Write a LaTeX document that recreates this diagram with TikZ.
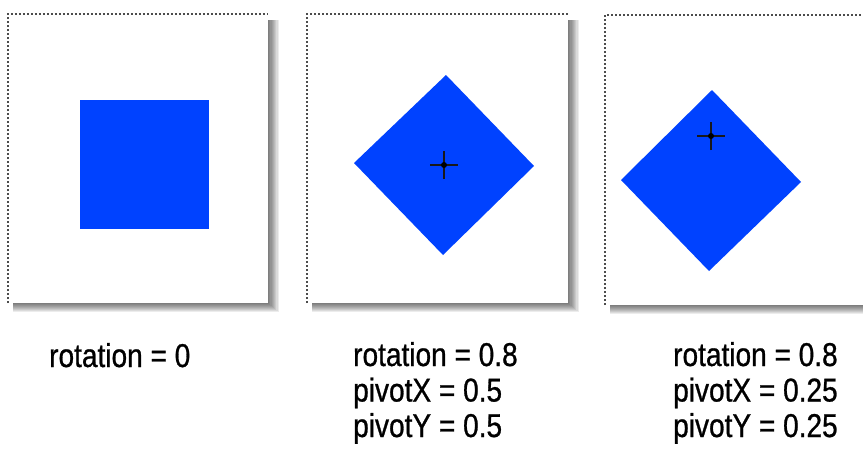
\documentclass[tikz,border=0pt]{standalone}
\usepackage{fontspec}
\setmainfont[FakeStretch=0.85,FakeBold=0.8]{Liberation Sans}
\definecolor{shapeblue}{RGB}{0,66,255}
\tikzset{
  panelbox/.style={fill=white},
  dotedge/.style={draw=black!70, line width=1.5pt, dash pattern=on 1.6pt off 2.4pt},
  shapefill/.style={fill=shapeblue},
  crossline/.style={draw=black!90, line width=2pt},
  lbl/.style={anchor=base west, inner sep=0pt, font=\fontsize{33}{35}\selectfont}
}
\newcommand{\panelshadow}[4]{%
  \foreach \i in {1,...,9}{%
    \fill[black, opacity=0.075] (#1+5,#2+6) rectangle (#3+\i*1.2,#4+\i*1.0);
  }%
}
\begin{document}
\begin{tikzpicture}[x=1pt,y=-1pt]
\useasboundingbox (0,0) rectangle (863,448);
\fill[white] (0,0) rectangle (863,448);

% panel 1
\panelshadow{8}{14}{268}{303}
\fill[panelbox] (8,14) rectangle (268,303);
\draw[dotedge] (8,303) -- (8,14) -- (268,14);
\fill[shapefill] (80,100) rectangle (209,229);

% panel 2
\panelshadow{307}{14}{568}{303}
\fill[panelbox] (307,14) rectangle (568,303);
\draw[dotedge] (307,303) -- (307,14) -- (568,14);
\coordinate (d2t) at (446,75);
\coordinate (d2r) at (534,166);
\coordinate (d2b) at (443,255);
\coordinate (d2l) at (354,163);
\fill[shapefill] (d2t) -- (d2r) -- (d2b) -- (d2l) -- cycle;
\coordinate (p2) at (444,165);
\draw[crossline] ([xshift=-14pt]p2) -- ([xshift=14pt]p2);
\draw[crossline] ([yshift=-14pt]p2) -- ([yshift=14pt]p2);
\fill[black] (p2) circle (3);

% panel 3
\panelshadow{605}{15}{880}{305}
\fill[panelbox] (605,15) rectangle (880,305);
\draw[dotedge] (605,305) -- (605,15) -- (870,15);
\coordinate (d3t) at (712,90);
\coordinate (d3r) at (801,182);
\coordinate (d3b) at (709,271);
\coordinate (d3l) at (621,180);
\fill[shapefill] (d3t) -- (d3r) -- (d3b) -- (d3l) -- cycle;
\coordinate (p3) at (711,136);
\draw[crossline] ([xshift=-14pt]p3) -- ([xshift=14pt]p3);
\draw[crossline] ([yshift=-14pt]p3) -- ([yshift=14pt]p3);
\fill[black] (p3) circle (3);

% labels
\node[lbl] (l1a) at (49,367) {rotation = 0};
\node[lbl] (l2a) at (353,366) {rotation = 0.8};
\node[lbl] (l2b) at (353,401.5) {pivotX = 0.5};
\node[lbl] (l2c) at (353,437) {pivotY = 0.5};
\node[lbl] (l3a) at (673,366) {rotation = 0.8};
\node[lbl] (l3b) at (673,401.5) {pivotX = 0.25};
\node[lbl] (l3c) at (673,437) {pivotY = 0.25};
\end{tikzpicture}
\end{document}
